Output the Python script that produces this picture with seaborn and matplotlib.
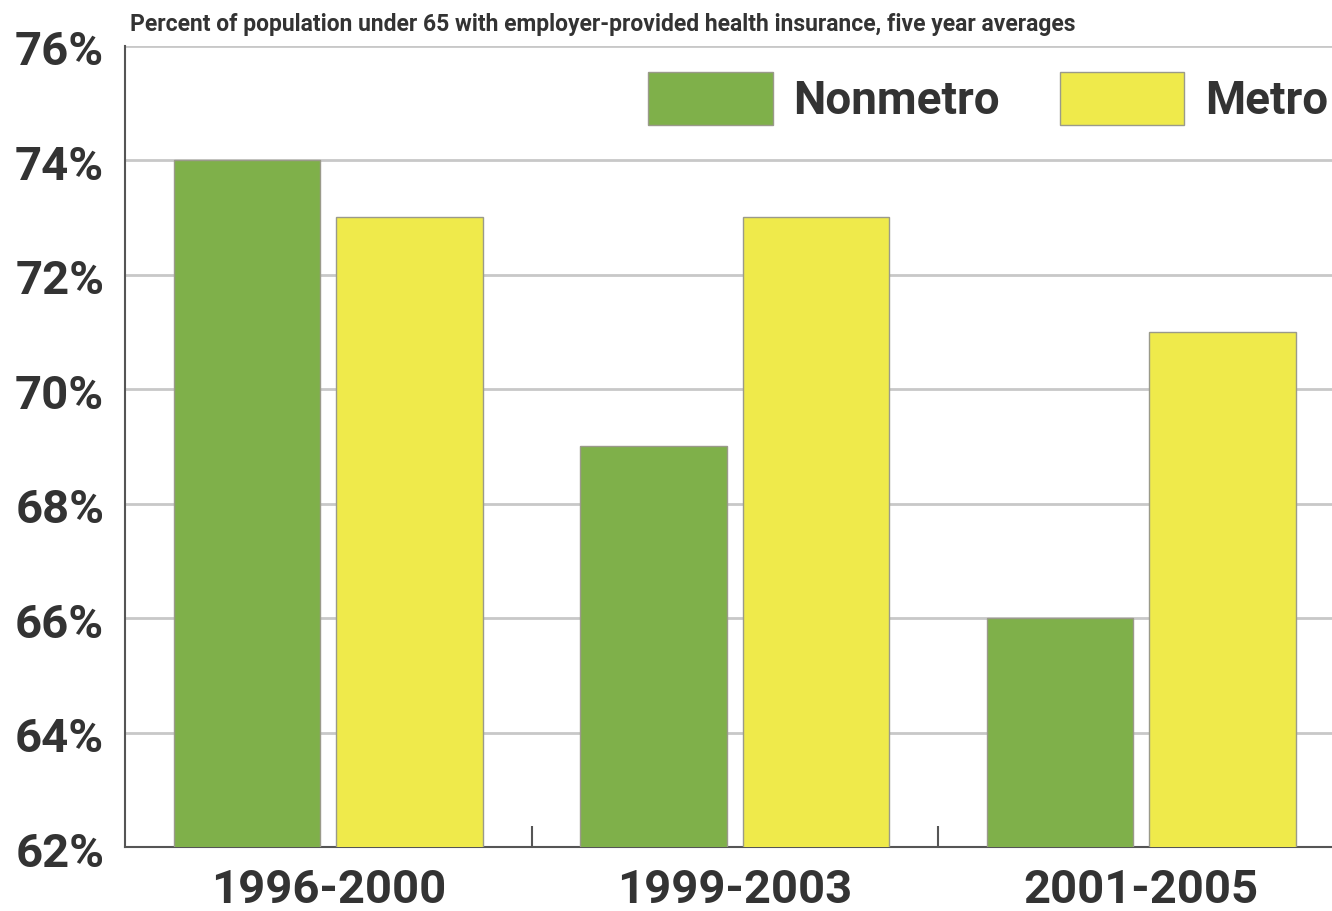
import matplotlib
matplotlib.use('Agg')
import matplotlib.pyplot as plt
import matplotlib.transforms as mtransforms
import seaborn as sns
import pandas as pd
from matplotlib.ticker import FixedLocator

# data
periods = ['1996-2000', '1999-2003', '2001-2005']
nonmetro = [74, 69, 66]
metro = [73, 73, 71]
series = ['Nonmetro', 'Metro']
title = 'Percent of population under 65 with employer-provided health insurance, five year averages'

df = pd.DataFrame({
    'period': periods * 2,
    'value': nonmetro + metro,
    'area': ['Nonmetro'] * len(periods) + ['Metro'] * len(periods),
})

sns.set_theme(style='white')
plt.rcParams['font.family'] = ['Roboto', 'DejaVu Sans']
text_color = '#333333'

fig = plt.figure(figsize=(13.32, 9.11), dpi=100)
ax = fig.add_axes([125 / 1332, 64 / 911, 1 - 125 / 1332, (847 - 45.5) / 911])

sns.barplot(data=df, x='period', y='value', hue='area', hue_order=series,
            palette=['#7fb04a', '#efea4b'], saturation=1, width=0.8, gap=0.1,
            edgecolor='#9a9a8a', linewidth=1, ax=ax, zorder=3)

ax.set_ylim(62, 76)
ax.set_xlim(-0.5, (1332 - 125) / 406.5 - 0.5)
ax.set_yticks(range(62, 77, 2))
ax.set_yticklabels([f'{v}%' for v in range(62, 77, 2)])
ax.yaxis.grid(True, color='#c8c8c8', linewidth=2, zorder=0)
ax.set_axisbelow(True)
ax.set_xlabel('')
ax.set_ylabel('')

for s in ['top', 'right']:
    ax.spines[s].set_visible(False)
for s in ['left', 'bottom']:
    ax.spines[s].set_color('#555555')
    ax.spines[s].set_linewidth(1.5)

ax.tick_params(axis='y', length=0, pad=15, labelsize=34, labelcolor=text_color)
ax.tick_params(axis='x', which='major', length=0, pad=15, labelsize=34, labelcolor=text_color)
shift = mtransforms.ScaledTranslation(0, -1.5 / 72, fig.dpi_scale_trans)
for lbl in ax.get_yticklabels():
    lbl.set_fontweight('bold')
    lbl.set_transform(lbl.get_transform() + shift)
for lbl in ax.get_xticklabels():
    lbl.set_fontweight('bold')
ax.xaxis.set_minor_locator(FixedLocator([0.5, 1.5]))
ax.tick_params(axis='x', which='minor', direction='in', length=15, width=1.5, color='#555555', bottom=True)

leg = ax.legend(loc='center left', bbox_to_anchor=(648 / 1332, 1 - 98.5 / 911),
                bbox_transform=fig.transFigure, ncol=2, frameon=False,
                borderpad=0, borderaxespad=0, handlelength=2.72, handleheight=1.42,
                handletextpad=0.45, columnspacing=1.3,
                prop={'size': 33, 'weight': 'bold'})
for t in leg.get_texts():
    t.set_color(text_color)
for h in leg.legend_handles:
    h.set_edgecolor('#9a9a8a')

fig.text(130 / 1332, 1 - 25 / 911, title, ha='left', va='center',
         fontsize=16.5, fontweight='bold', color=text_color)

fig.savefig('out.png', dpi=100)
